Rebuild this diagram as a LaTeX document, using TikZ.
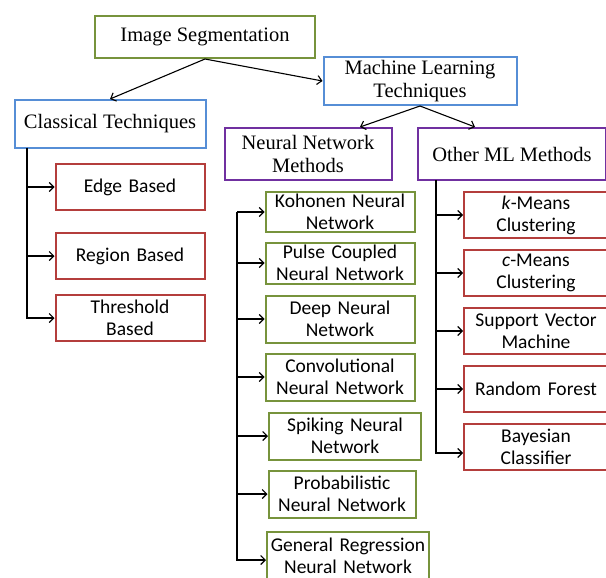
\documentclass[tikz,border=0pt]{standalone}
\usepackage{fontspec}
\setmainfont{Liberation Serif}
\newfontfamily\calib{Carlito}
\usepackage{xcolor}
\usetikzlibrary{arrows.meta}

\definecolor{segGreen}{RGB}{119,147,60}
\definecolor{segBlue}{RGB}{86,142,214}
\definecolor{segPurple}{RGB}{112,48,160}
\definecolor{segRed}{RGB}{180,62,60}

\begin{document}
\begin{tikzpicture}[x=1pt,y=-1pt,
  box/.style={draw, line width=2pt, align=center, inner sep=2pt,
              font=\fontsize{20.5}{22}\selectfont},
  topbox/.style={box, font=\fontsize{20.5}{23}\selectfont},
  subbox/.style={box, text width=#1, minimum height=46pt, inner ysep=0pt,
                 font=\calib\fontsize{19.5}{22}\selectfont},
  subbox/.default=145pt,
  arr/.style={line width=1.1pt, -{Straight Barb[length=4.5pt,width=9pt]}}]
\useasboundingbox (0,0) rectangle (606,578);

% upper levels
\node [topbox, segGreen, text=black, minimum width=220pt, minimum height=42pt]
       (imgseg) at (205,37) {Image Segmentation};
\node [topbox, segBlue, text=black, minimum width=193pt, minimum height=48pt]
       (mlt) at (420,81) {Machine Learning\\Techniques};
\node [topbox, segBlue, text=black, minimum width=191pt, minimum height=48pt]
       (classic) at (110,124) {Classical Techniques};
\node [topbox, segPurple, text=black, minimum width=167pt, minimum height=52pt]
       (nnm) at (308,154) {Neural Network\\Methods};
\node [topbox, segPurple, text=black, minimum width=188pt, minimum height=52pt]
       (otherml) at (512,154) {Other ML Methods};

% classical techniques
\node [subbox, segRed, text=black] (edge) at (130,187) {Edge Based};
\node [subbox, segRed, text=black] (region) at (130,256) {Region Based};
\node [subbox, segRed, text=black] (thresh) at (130,318) {Threshold\\Based};

% neural network methods
\node [subbox, segGreen, text=black, minimum height=40pt] (kohonen)
       at (340,212) {Kohonen Neural\\Network};
\node [subbox, segGreen, text=black, minimum height=41pt] (pulse)
       at (340,263) {Pulse Coupled\\Neural Network};
\node [subbox, segGreen, text=black, minimum height=47pt] (deepnn)
       at (340,319) {Deep Neural\\Network};
\node [subbox, segGreen, text=black, minimum height=47pt] (convnn)
       at (340,377) {Convolutional\\Neural Network};
\node [subbox=148pt, segGreen, text=black, minimum height=47pt] (spiking)
       at (345,436) {Spiking Neural\\Network};
\node [subbox=143pt, segGreen, text=black, minimum height=47pt] (probnn)
       at (342,494) {Probabilistic\\Neural Network};
\node [subbox=158pt, segGreen, text=black, minimum height=48pt] (genreg)
       at (348,556) {General Regression\\Neural Network};

% other ML methods
\node [subbox=140pt, segRed, text=black] (kmeans) at (536,215) {\textit{k}-Means\\Clustering};
\node [subbox=140pt, segRed, text=black] (cmeans) at (536,273) {\textit{c}-Means\\Clustering};
\node [subbox=140pt, segRed, text=black] (svm) at (536,331) {Support Vector\\Machine};
\node [subbox=140pt, segRed, text=black] (rforest) at (536,389) {Random Forest};
\node [subbox=140pt, segRed, text=black] (bayes) at (536,447) {Bayesian\\Classifier};

% trunks
\coordinate (ctrunk) at (27,148);
\coordinate (ntrunk) at (237,212);
\coordinate (otrunk) at (436,180);

\draw [arr] (imgseg.south) -- (classic.north);
\draw [arr] (imgseg.south) -- (mlt.west);
\draw [arr] (mlt.south) -- ([xshift=52pt]nnm.north);
\draw [arr] (mlt.south) -- ([xshift=-37pt]otherml.north);

\foreach \n in {edge,region,thresh}
  \draw [arr] (ctrunk) |- (\n.west);
\foreach \n in {kohonen,pulse,deepnn,convnn,spiking,probnn}
  \draw [arr] (ntrunk) |- (\n.west);
\draw [arr] (ntrunk) |- ([yshift=-4pt]genreg.west);
\foreach \n in {kmeans,cmeans,svm,rforest}
  \draw [arr] (otrunk) |- (\n.west);
\draw [arr] (otrunk) |- ([yshift=-6pt]bayes.west);
\end{tikzpicture}
\end{document}
